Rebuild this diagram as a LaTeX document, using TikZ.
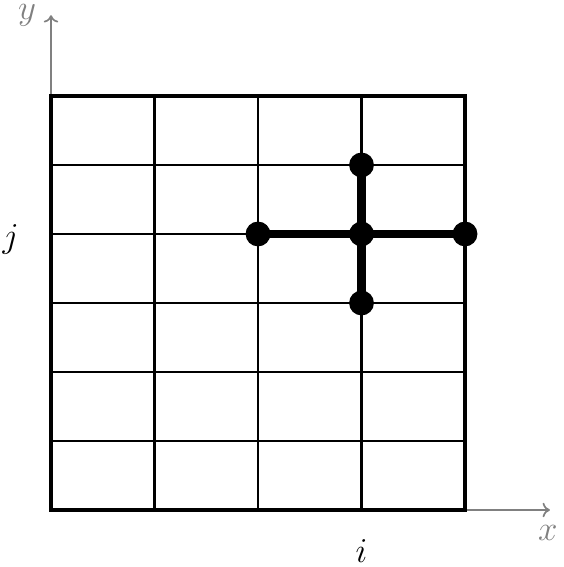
\documentclass[tikz,border=0pt]{standalone}
\usepackage{xcolor}
\usepackage{amsmath}
\definecolor{axisGray}{RGB}{128,128,128}
\usepackage{tikz}
\usetikzlibrary{arrows.meta,positioning}

\tikzset{
  stencildot/.style={circle, fill=black, inner sep=0pt, minimum size=0.36cm},
  stencilarm/.style={line width=3.5pt},
  axislabel/.style={text=axisGray, font=\Large}
}

\begin{document}
\begin{tikzpicture}[x=1.5cm, y=1cm]
      \useasboundingbox (-0.4927,-0.826) rectangle (4.947,7.391);
      % axes
      \coordinate (origin) at (0,0);
      \coordinate (ytip) at (0,7.17);
      \coordinate (xtip) at (4.82,0);
      \draw[axisGray, line width=0.7pt, -{To[length=3pt,width=6pt]}] (0,6) -- (ytip);
      \draw[axisGray, line width=0.7pt, -{To[length=3pt,width=6pt]}] (4,0) -- (xtip);
      \node[axislabel] (ylab) at (-0.23,7.17) {$y$};
      \node[axislabel] (xlab) at (4.8,-0.33) {$x$};
      % grid
      \draw[line width=0.9pt] (0,0) grid[xstep=1, ystep=1] (4,6);
      \draw[line width=1.8pt] (0,0) rectangle (4,6);
      % indices
      \node[font=\Large] (jlab) at (-0.39,3.92) {$j$};
      \node[font=\Large] (ilab) at (3,-0.6) {$i$};
      % stencil
      \node[stencildot] (c) at (3,4) {};
      \node[stencildot] (w) at (2,4) {};
      \node[stencildot] (e) at (4,4) {};
      \node[stencildot] (n) at (3,5) {};
      \node[stencildot] (s) at (3,3) {};
      \draw[stencilarm] (w.center) -- (e.center);
      \draw[stencilarm] (n.center) -- (s.center);
\end{tikzpicture}
\end{document}
